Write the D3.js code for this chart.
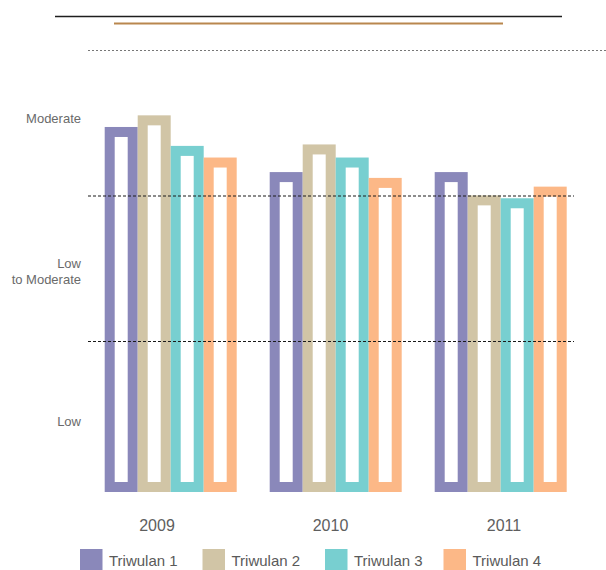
<!DOCTYPE html>
<html>
<head>
<meta charset="utf-8">
<script src="https://cdn.jsdelivr.net/npm/d3@7"></script>
<style>
  html, body { margin: 0; padding: 0; background: #fff; }
  svg { display: block; font-family: "Liberation Sans", Arial, sans-serif; }
</style>
</head>
<body>
<svg id="chart" width="606" height="570"></svg>
<script>
// Years on the x axis and the four quarterly series
const years = ["2009", "2010", "2011"];
const quarters = ["Triwulan 1", "Triwulan 2", "Triwulan 3", "Triwulan 4"];
const colors = ["#8a88ba", "#d1c5a6", "#78cfd0", "#fcb887"];

// Risk level per quarter (0 = bottom, 1 = Low / Low-to-Moderate boundary, 2 = Low-to-Moderate / Moderate boundary)
const triwulan1 = [2.44, 2.13, 2.13];
const triwulan2 = [2.52, 2.32, 1.97];
const triwulan3 = [2.31, 2.23, 1.95];
const triwulan4 = [2.23, 2.09, 2.03];
const series = [triwulan1, triwulan2, triwulan3, triwulan4];

// Level labels on the left and where they sit on the level scale
const levelLabels = [["Low"], ["Low", "to Moderate"], ["Moderate"]];
const levelLabelPos = [0.45, 1.48, 2.53];
const gridLevels = [1, 2];

const svg = d3.select("#chart");

const y = d3.scaleLinear().domain([0, 3]).range([487, 50.5]);
const x0 = d3.scaleBand().domain(years).range([104.7, 566.7]).paddingInner(0.2).paddingOuter(0);
const x1 = d3.scaleBand().domain(quarters).range([0, x0.bandwidth()]);
const color = d3.scaleOrdinal().domain(quarters).range(colors);
const yearLabelX = d3.scalePoint().domain(years).range([157, 504]);

// Header rules
svg.append("line").attr("x1", 55).attr("x2", 562).attr("y1", 16.5).attr("y2", 16.5)
  .attr("stroke", "#1e1e1e").attr("stroke-width", 1.4);
svg.append("line").attr("x1", 114).attr("x2", 503).attr("y1", 23.5).attr("y2", 23.5)
  .attr("stroke", "#b9874e").attr("stroke-width", 2);

// Hollow bars
const sw = 10;
const rows = [];
years.forEach((yr, i) => quarters.forEach((q, j) => rows.push({ year: yr, q, v: series[j][i] })));

svg.append("g").selectAll("rect").data(rows).join("rect")
  .attr("x", d => x0(d.year) + x1(d.q) + sw / 2)
  .attr("width", x1.bandwidth() - sw)
  .attr("y", d => y(d.v))
  .attr("height", d => y(0) - y(d.v))
  .attr("fill", "#fff")
  .attr("stroke", d => color(d.q))
  .attr("stroke-width", sw);

// Level boundaries, drawn over the bars
svg.append("g").selectAll("line").data(gridLevels).join("line")
  .attr("x1", 88).attr("x2", 574)
  .attr("y1", d => y(d)).attr("y2", d => y(d))
  .attr("stroke", "#1a1a1a").attr("stroke-width", 1.2)
  .attr("stroke-dasharray", "3,2");
svg.append("line").attr("x1", 88).attr("x2", 606)
  .attr("y1", y(3)).attr("y2", y(3))
  .attr("stroke", "#777").attr("stroke-width", 1.2)
  .attr("stroke-dasharray", "2,2");

// Level labels
const lab = svg.append("g").attr("fill", "#6a6a6a").attr("font-size", 13).attr("text-anchor", "end");
levelLabels.forEach((lines, i) => {
  const cy = y(levelLabelPos[i]);
  const lh = 16;
  const t = lab.append("text").attr("x", 81);
  lines.forEach((s, k) => {
    t.append("tspan").attr("x", 81)
      .attr("y", cy + (k - (lines.length - 1) / 2) * lh + 4.5)
      .text(s);
  });
});

// Year labels
svg.append("g").selectAll("text").data(years).join("text")
  .attr("x", d => yearLabelX(d)).attr("y", 531)
  .attr("text-anchor", "middle").attr("font-size", 16).attr("fill", "#5e5e5e")
  .text(d => d);

// Legend
const legendX = [80, 202.5, 325, 443.5];
const leg = svg.append("g").selectAll("g").data(quarters).join("g")
  .attr("transform", (d, i) => `translate(${legendX[i]},549)`);
leg.append("rect").attr("width", 22.5).attr("height", 22).attr("fill", d => color(d));
leg.append("text").attr("x", 29).attr("y", 17).attr("font-size", 15).attr("fill", "#5a5a5a")
  .text(d => d);
</script>
</body>
</html>
